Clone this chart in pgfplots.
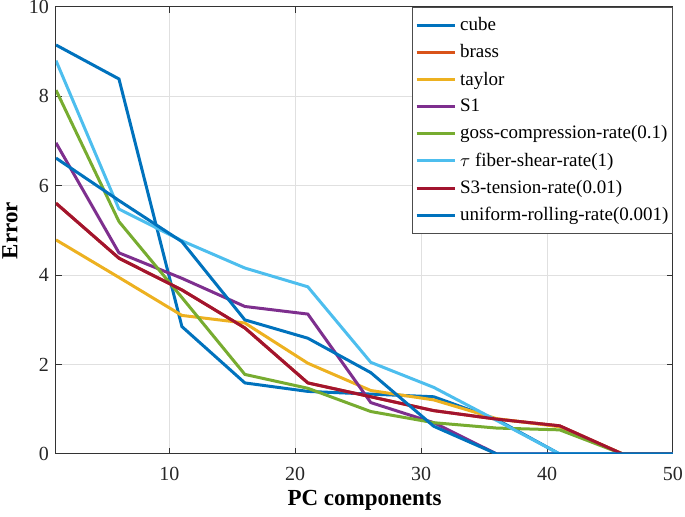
\documentclass[border=0pt]{standalone}
\usepackage{fontspec}
\setmainfont{Liberation Serif}
\usepackage{pgfplots}
\pgfplotsset{compat=1.18}
\usepackage{pgfplotstable}
\definecolor{c1}{rgb}{0,0.447,0.741}
\definecolor{c2}{rgb}{0.85,0.325,0.098}
\definecolor{c3}{rgb}{0.929,0.694,0.125}
\definecolor{c4}{rgb}{0.494,0.184,0.556}
\definecolor{c5}{rgb}{0.466,0.674,0.188}
\definecolor{c6}{rgb}{0.301,0.745,0.933}
\definecolor{c7}{rgb}{0.635,0.078,0.184}
\pgfplotstableread{
x  cube brass taylor S1   goss tau  S3   uni
1  9.15 5.61  4.79   6.96 8.14 8.80 5.61 6.62
6  8.39 4.38  3.95   4.50 5.20 5.48 4.38 5.67
11 2.85 3.67  3.10   3.93 3.50 4.77 3.67 4.75
16 1.59 2.82  2.93   3.30 1.78 4.16 2.82 3.00
21 1.40 1.59  2.03   3.13 1.47 3.74 1.59 2.59
26 1.34 1.28  1.42   1.15 0.95 2.05 1.28 1.82
31 1.28 0.97  1.21   0.70 0.70 1.49 0.97 0.62
36 0.77 0.78  0.79   0.00 0.58 0.75 0.78 0.00
41 0.00 0.63  0.61   0.00 0.54 0.00 0.63 0.00
46 0.00 0.00  0.00   0.00 0.00 0.00 0.00 0.00
50 0.00 0.00  0.00   0.00 0.00 0.00 0.00 0.00
}\data
\begin{document}
\begin{tikzpicture}
\begin{axis}[
  at={(0,0)}, anchor=south west,
  width=308.5pt, height=223.5pt, scale only axis,
  xmin=1, xmax=50, ymin=0, ymax=10,
  xtick={10,20,30,40,50}, ytick={0,2,4,6,8,10},
  grid=major, major grid style={black!12, line width=0.5pt},
  tick align=inside, tick pos=both,
  axis line style={black!80, line width=0.5pt},
  every tick/.style={black!80, line width=0.5pt},
  major tick length=3pt,
  ticklabel style={font=\fontsize{10}{12}\selectfont, text=black!85},
  xticklabel style={inner sep=0pt, anchor=base, yshift=-13.5pt},
  /pgf/number format/assume math mode=true,
  xlabel={PC components}, ylabel={Error},
  label style={font=\fontsize{11.5}{13}\selectfont\bfseries},
  xlabel style={at={(axis description cs:0.5,0)}, anchor=base, inner sep=0pt, yshift=-26pt},
  ylabel style={at={(axis description cs:-0.0746,0.5)}, anchor=center},
  legend style={at={(1,1)}, anchor=north east, font=\fontsize{9.5}{11}\selectfont,
    draw=black!70, line width=0.5pt, legend cell align=left, row sep=1.5pt,
    inner xsep=0pt, inner ysep=3pt},
  legend image code/.code={\path (0pt,0pt); \draw[#1, line width=1.5pt] (1.5pt,0pt) -- (20.5pt,0pt);},
  every axis plot/.append style={line width=1.5pt},
]
\addplot[c1] table[x=x,y=cube] {\data};
\addplot[c2] table[x=x,y=brass] {\data};
\addplot[c3] table[x=x,y=taylor] {\data};
\addplot[c4] table[x=x,y=S1] {\data};
\addplot[c5] table[x=x,y=goss] {\data};
\addplot[c6] table[x=x,y=tau] {\data};
\addplot[c7] table[x=x,y=S3] {\data};
\addplot[c1] table[x=x,y=uni] {\data};
\legend{cube, brass, taylor, S1, goss-compression-rate(0.1), $\tau$ fiber-shear-rate(1), S3-tension-rate(0.01), uniform-rolling-rate(0.001)}
\end{axis}
\pgfresetboundingbox
\path (-28pt,-31.5pt) rectangle (314.5pt,227pt);
\end{tikzpicture}
\end{document}
